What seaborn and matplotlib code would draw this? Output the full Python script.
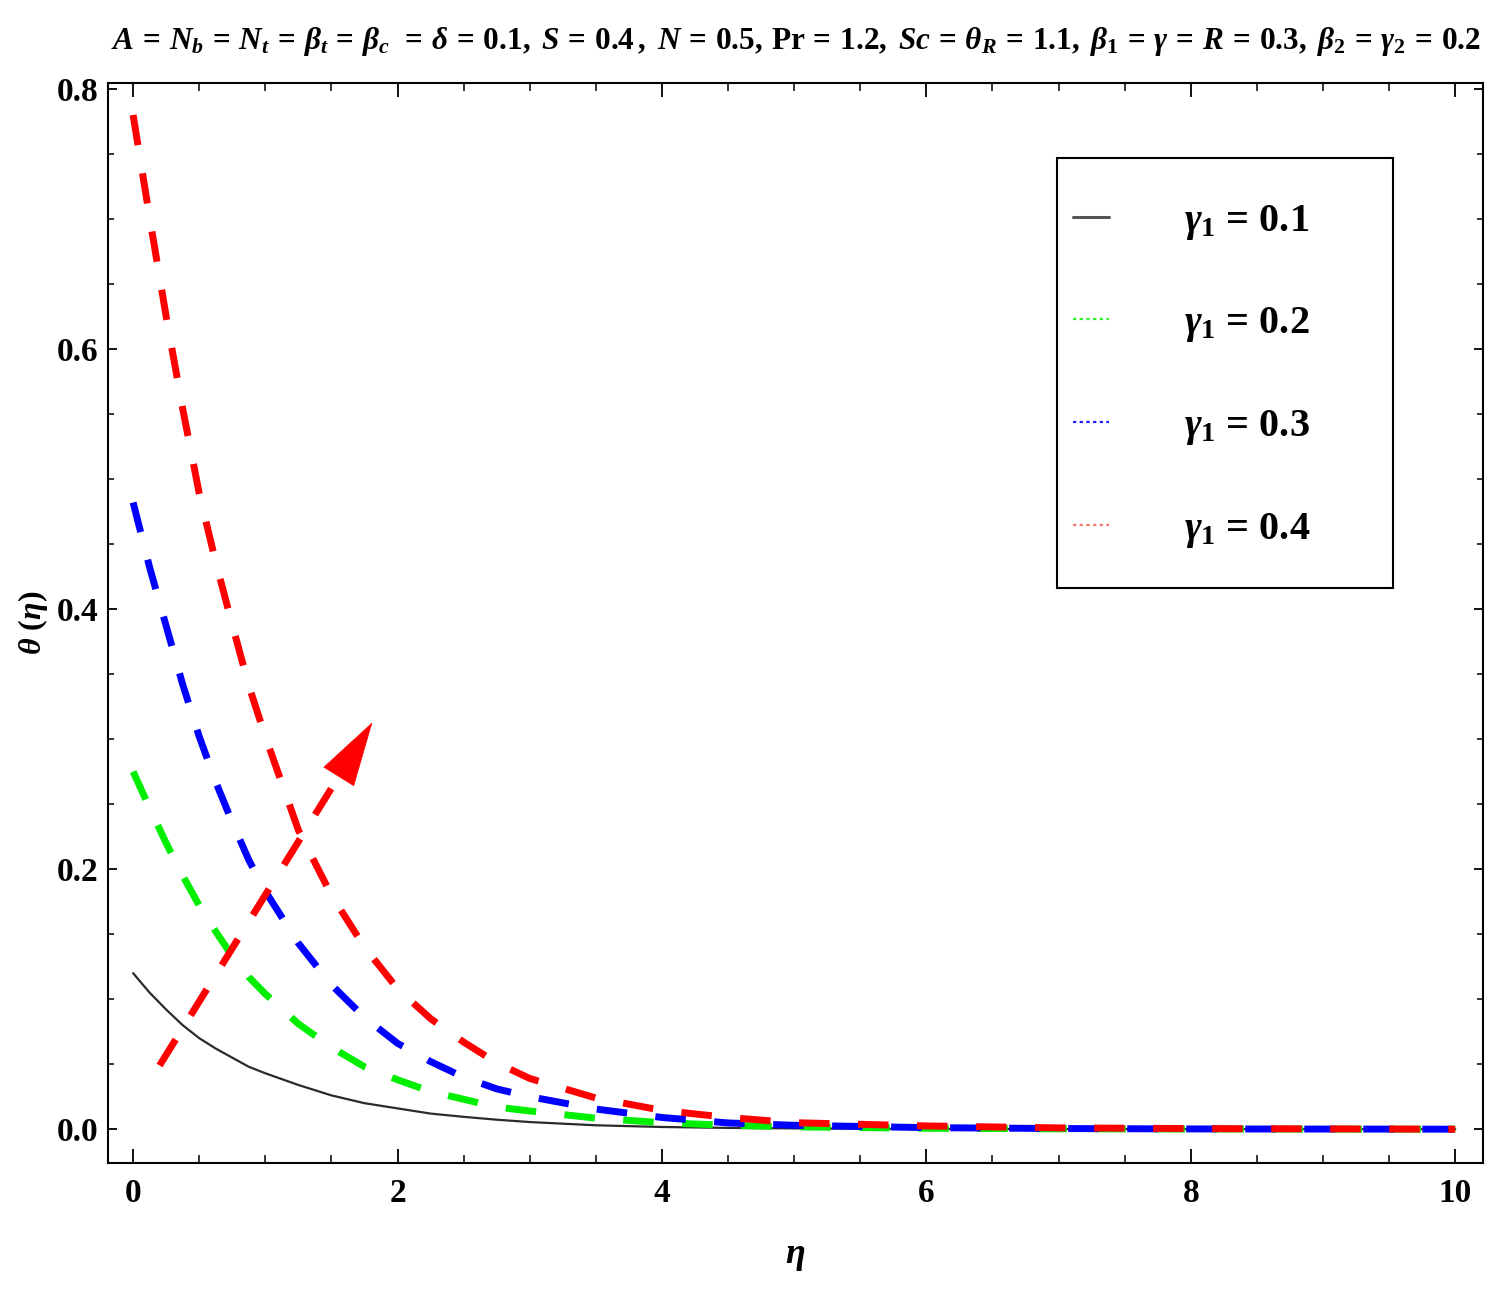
import numpy as np
import pandas as pd
import matplotlib
matplotlib.use("Agg")
import matplotlib.pyplot as plt
from matplotlib.lines import Line2D
from matplotlib.patches import Rectangle
from matplotlib.ticker import MultipleLocator
import seaborn as sns

# ---------------- data ----------------
eta = [0, 0.125, 0.25, 0.375, 0.5, 0.625, 0.75, 0.875, 1.0,
       1.25, 1.5, 1.75, 2.0, 2.25, 2.5, 2.75, 3.0,
       3.5, 4.0, 4.5, 5.0, 6.0, 7.0, 8.0, 10.0]
theta_g01 = [0.120, 0.105, 0.092, 0.080, 0.070, 0.062, 0.055, 0.048, 0.043,
             0.034, 0.026, 0.020, 0.016, 0.012, 0.0095, 0.0073, 0.0055,
             0.003, 0.0017, 0.001, 0.0006, 0.0002, 0.0001, 0.0, 0.0]
theta_g02 = [0.275, 0.247, 0.220, 0.195, 0.172, 0.152, 0.133, 0.117, 0.104,
             0.081, 0.063, 0.048, 0.038, 0.029, 0.023, 0.017, 0.014,
             0.0085, 0.005, 0.003, 0.0018, 0.0007, 0.0003, 0.0001, 0.0]
theta_g03 = [0.482, 0.432, 0.387, 0.342, 0.302, 0.267, 0.236, 0.207, 0.183,
             0.143, 0.111, 0.086, 0.066, 0.052, 0.040, 0.031, 0.025,
             0.0155, 0.009, 0.0048, 0.003, 0.0012, 0.0005, 0.0002, 0.0]
theta_g04 = [0.780, 0.701, 0.625, 0.554, 0.489, 0.436, 0.388, 0.341, 0.302,
             0.230, 0.180, 0.140, 0.108, 0.085, 0.067, 0.051, 0.039,
             0.024, 0.0145, 0.009, 0.005, 0.0025, 0.001, 0.0005, 0.0]

labels = [r"$\gamma_{\mathit{1}}$ = 0.1", r"$\gamma_{\mathit{1}}$ = 0.2",
          r"$\gamma_{\mathit{1}}$ = 0.3", r"$\gamma_{\mathit{1}}$ = 0.4"]
x_ticks_major = 2
x_ticks_minor = 0.5
y_ticks_major = 0.2
y_ticks_minor = 0.05

# arrow annotation (start / tip in data coords)
arrow_start = (0.20, 0.049)
arrow_tip = (1.81, 0.313)

title = (r"$A\, =\, N_b\, =\, N_t\, =\, \beta_t\, =\, \beta_c\;\, =\, \delta\, =\, 0.1,\; "
         r"S\, =\, \mathit{0.4}\,,\; N\, =\, 0.5,\, \mathrm{Pr}\, =\, 1.2,\; Sc\, =\, \theta_R\, =\, 1.1,\; "
         r"\beta_1\, =\, \gamma\, =\, R\, =\, 0.3,\; \beta_2\, =\, \gamma_2\, =\, 0.2$")

# ---------------- style ----------------
sns.set_style("ticks")
plt.rcParams["font.family"] = ["Liberation Serif", "DejaVu Serif"]
plt.rcParams["font.weight"] = "bold"
plt.rcParams["mathtext.fontset"] = "custom"
plt.rcParams["mathtext.rm"] = "Liberation Serif:bold"
plt.rcParams["mathtext.it"] = "Liberation Serif:italic:bold"
plt.rcParams["mathtext.bf"] = "Liberation Serif:bold"
plt.rcParams["axes.linewidth"] = 1.5
for k in ["text.color", "axes.labelcolor", "xtick.color", "ytick.color", "axes.edgecolor"]:
    plt.rcParams[k] = "black"

fig = plt.figure(figsize=(15.12, 13.0), dpi=100)
ax = fig.add_axes([108 / 1512, 1 - 1163 / 1300, (1483 - 108) / 1512, (1163 - 83) / 1300])

df = pd.DataFrame({"eta": eta, "g1": theta_g01, "g2": theta_g02, "g3": theta_g03, "g4": theta_g04})

dash = (0, (4.4, 4.1))
sns.lineplot(data=df, x="eta", y="g1", ax=ax, color="#2b2b2b", lw=1.6, zorder=2)
sns.lineplot(data=df, x="eta", y="g2", ax=ax, color="#00ee00", lw=5.0, linestyle=dash, zorder=3)
sns.lineplot(data=df, x="eta", y="g3", ax=ax, color="#0000ff", lw=5.0, linestyle=dash, zorder=4)
sns.lineplot(data=df, x="eta", y="g4", ax=ax, color="#ff0000", lw=5.0, linestyle=dash, zorder=5)

# arrow: dashed shaft + solid head
fr = 0.86
shaft_end = (arrow_start[0] + fr * (arrow_tip[0] - arrow_start[0]),
             arrow_start[1] + fr * (arrow_tip[1] - arrow_start[1]))
ax.plot([arrow_start[0], shaft_end[0]], [arrow_start[1], shaft_end[1]],
        color="red", lw=5.0, linestyle=dash, zorder=6, solid_capstyle="butt")
ax.annotate("", xy=arrow_tip, xytext=shaft_end,
            arrowprops=dict(arrowstyle="-|>,head_length=1.5,head_width=0.42",
                            color="red", lw=0.5, shrinkA=0, shrinkB=0,
                            mutation_scale=30), zorder=7)

ax.set_xlim(-0.19, 10.21)
ax.set_ylim(-0.026, 0.8046)

ax.xaxis.set_major_locator(MultipleLocator(x_ticks_major))
ax.xaxis.set_minor_locator(MultipleLocator(x_ticks_minor))
ax.yaxis.set_major_locator(MultipleLocator(y_ticks_major))
ax.yaxis.set_minor_locator(MultipleLocator(y_ticks_minor))
ax.tick_params(axis="x", which="major", direction="in", top=True, length=10, width=1.3,
               labelsize=24, pad=11)
ax.tick_params(axis="x", which="minor", direction="in", top=True, length=5.5, width=1.1)
ax.tick_params(axis="y", which="major", direction="in", right=True, length=6.5, width=1.3,
               labelsize=24, pad=7)
ax.tick_params(axis="y", which="minor", direction="in", right=True, length=4.5, width=1.1)
for s in ax.spines.values():
    s.set_color("black")
    s.set_linewidth(1.5)

ax.set_xlabel(r"$\eta$", fontsize=26, labelpad=22)
ax.set_ylabel(r"$\theta\ (\eta)$", fontsize=23, labelpad=5)

fig.text((113 + 1478) / 2 / 1512, 1 - 42 / 1300, title, ha="center", va="center", fontsize=22.5)

# legend
handles = [
    Line2D([], [], color="#555555", lw=2.2),
    Line2D([], [], color="#33ee33", lw=1.6, linestyle=(0, (1.5, 1.5))),
    Line2D([], [], color="#2222ff", lw=1.6, linestyle=(0, (1.5, 1.5))),
    Line2D([], [], color="#ff7777", lw=1.6, linestyle=(0, (1.5, 1.5))),
]
ax.add_patch(Rectangle((0.690, 0.532), 0.2447, 0.3986, transform=ax.transAxes,
                       fill=False, edgecolor="black", lw=1.5, zorder=8))
ax.legend(handles, labels, loc="upper left", bbox_to_anchor=(0.7018, 0.8893),
          frameon=False, fontsize=29, handlelength=0.9, handletextpad=1.85,
          labelspacing=1.575, borderpad=0, borderaxespad=0)

fig.savefig("out.png", dpi=100)
